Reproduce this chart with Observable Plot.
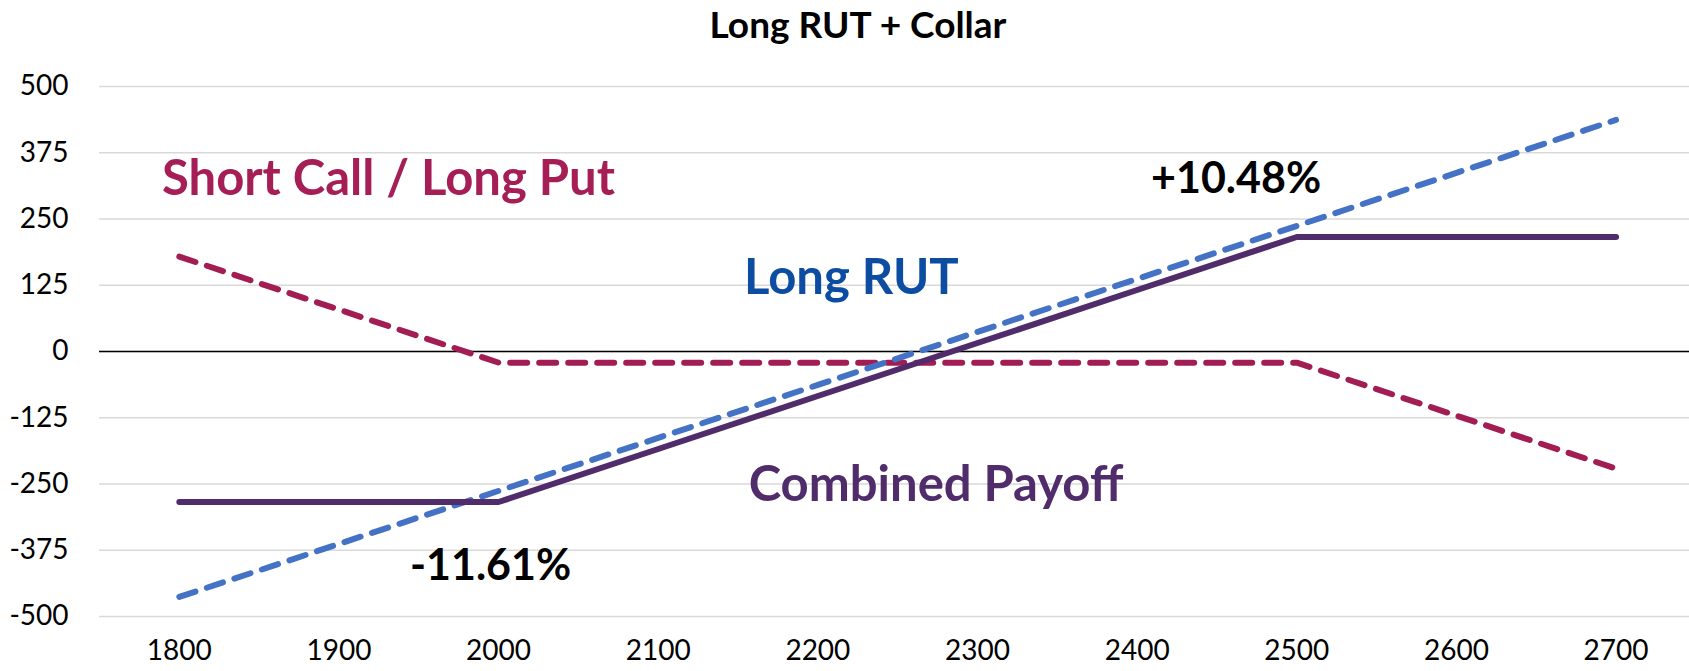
<!DOCTYPE html>
<html>
<head>
<meta charset="utf-8">
<script src="https://cdn.jsdelivr.net/npm/d3@7"></script>
<script src="https://cdn.jsdelivr.net/npm/@observablehq/plot@0.6"></script>
<style>
  html, body { margin: 0; padding: 0; background: #fff; }
  #title { height: 52px; width: 1689px; font-family: Lato, "Open Sans", sans-serif; font-weight: bold; font-size: 37px; line-height: 1; color: #000; position: relative; }
  #title span { position: absolute; left: 858px; top: 5px; transform: translateX(-50%); white-space: nowrap; }
</style>
</head>
<body>
<div id="title"><span>Long RUT + Collar</span></div>
<div id="chart"></div>
<script>
const strikes = [1800, 1900, 2000, 2100, 2200, 2300, 2400, 2500, 2600, 2700];
const longRut = [-463, -363, -263, -163, -63, 37, 137, 237, 337, 437];
const collar = [179, 79, -21, -21, -21, -21, -21, -21, -121, -221];
const combined = [-284, -284, -284, -184, -84, 16, 116, 216, 216, 216];
const yTicks = [-500, -375, -250, -125, 0, 125, 250, 375, 500];
const xTicks = strikes;

const labelText = ["Short Call / Long Put", "Long RUT", "Combined Payoff"];
const labelX = [1931, 2221, 2274];
const labelY = [296, 108, -283];
const labelColor = ["#A51E55", "#0C4DA2", "#512C6A"];

const pctText = ["+10.48%", "-11.61%"];
const pctX = [2462, 1995];
const pctY = [300, -432];

const rows = (vals) => strikes.map((s, i) => ({x: s, y: vals[i]}));
const labels = labelText.map((t, i) => ({t, x: labelX[i], y: labelY[i], c: labelColor[i]}));
const pcts = pctText.map((t, i) => ({t, x: pctX[i], y: pctY[i]}));

const font = 'Lato, "Open Sans", sans-serif';

const chart = Plot.plot({
  width: 1689,
  height: 619,
  marginTop: 34,
  marginBottom: 55,
  marginLeft: 99,
  marginRight: 0,
  style: {fontFamily: font, background: "#fff", overflow: "visible"},
  x: {domain: [1750, 2746], ticks: xTicks, tickFormat: d => String(d), label: null},
  y: {domain: [-500, 500], ticks: yTicks, tickFormat: d => String(d), label: null},
  marks: [
    Plot.ruleY(yTicks, {stroke: "#D9D9D9", strokeWidth: 1.5}),
    Plot.ruleY([0], {stroke: "#000", strokeWidth: 1.5}),
    Plot.axisY({ticks: yTicks, tickSize: 0, tickPadding: 31, fontSize: 28, fill: "#000", tickFormat: d => String(d), label: null}),
    Plot.axisX({ticks: xTicks, tickSize: 0, tickPadding: 24, fontSize: 28, fill: "#000", tickFormat: d => String(d), label: null}),
    Plot.line(rows(collar), {x: "x", y: "y", stroke: "#A31D55", strokeWidth: 6, strokeDasharray: "17,12", strokeLinecap: "round"}),
    Plot.line(rows(longRut), {x: "x", y: "y", stroke: "#4472C4", strokeWidth: 6, strokeDasharray: "17,12", strokeLinecap: "round"}),
    Plot.line(rows(combined), {x: "x", y: "y", stroke: "#512C6A", strokeWidth: 6, strokeLinecap: "round"}),
    Plot.text(labels, {x: "x", y: "y", text: "t", fill: "c", fontSize: 49, fontWeight: "bold", textAnchor: "middle", lineAnchor: "bottom"}),
    Plot.text(pcts, {x: "x", y: "y", text: "t", fill: "#000", fontSize: 43, fontWeight: "bold", textAnchor: "middle", lineAnchor: "bottom"})
  ]
});
document.getElementById("chart").appendChild(chart);
</script>
</body>
</html>
